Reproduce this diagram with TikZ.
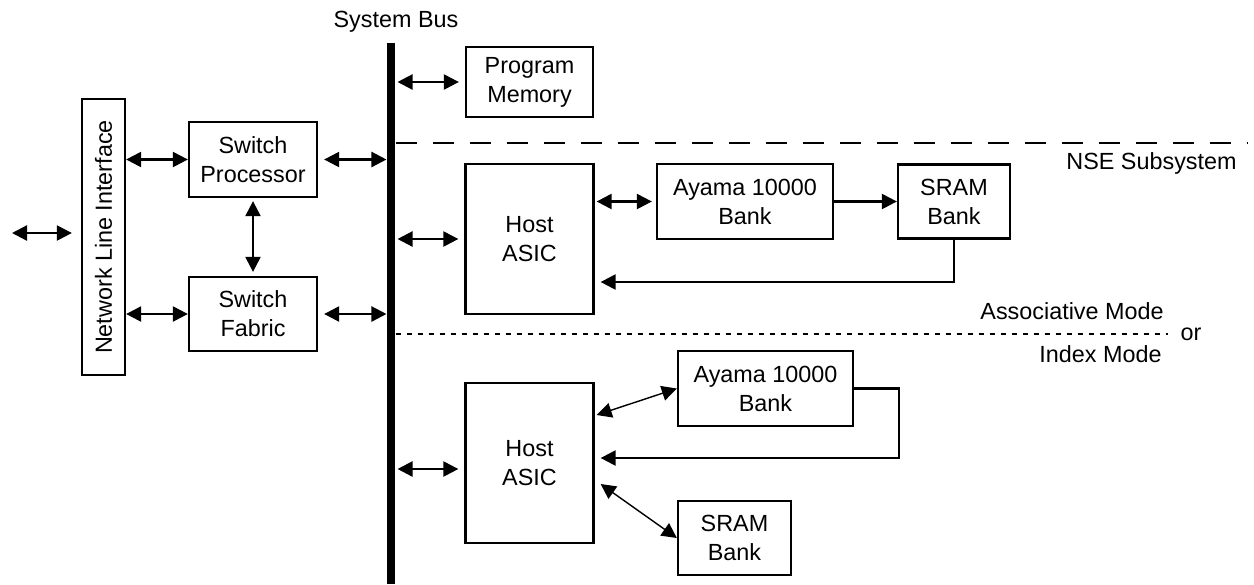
\documentclass[tikz,border=0pt]{standalone}
\usepackage{fontspec}
\setmainfont{Liberation Sans}
\usetikzlibrary{shapes,arrows.meta,positioning}

\begin{document}
\begin{tikzpicture}[semithick,node distance=3cm,
		every node/.style={font=\fontsize{13.3pt}{16.5pt}\selectfont},
		box/.style={draw,line width=1.3pt,align=center,inner sep=1pt},
		dbl/.style={line width=1.3pt,{Triangle[length=0.3cm,width=0.3cm]}-{Triangle[length=0.3cm,width=0.3cm]}},
		one/.style={line width=1.3pt,-{Triangle[length=0.3cm,width=0.3cm]}},
		thindbl/.style={line width=0.8pt,{Triangle[length=0.3cm,width=0.3cm]}-{Triangle[length=0.3cm,width=0.3cm]}}]
		\useasboundingbox (0,0) rectangle (25.08,-11.68);

		\node[box,minimum width=0.86cm,minimum height=5.52cm] (nli) at (2.07,-4.74) {\rotatebox{90}{Network Line Interface}};
		\node[box,minimum width=2.56cm,minimum height=1.5cm] (sp) at (5.06,-3.19) {Switch\\Processor};
		\node[box,minimum width=2.56cm,minimum height=1.48cm,below of=sp,node distance=3.09cm] (sf) {Switch\\Fabric};
		\node[fill,inner sep=0pt,minimum width=0.16cm,minimum height=10.82cm] (bus) at (7.82,-6.27) {};
		\node[anchor=base] (buslabel) at (7.92,-0.54) {System Bus};

		\node[box,minimum width=2.54cm,minimum height=1.4cm] (pm) at (10.59,-1.64) {Program\\Memory};
		\node[box,minimum width=2.56cm,minimum height=3cm,below of=pm,node distance=3.14cm] (ha1) {Host\\ASIC};
		\node[box,minimum width=3.52cm,minimum height=1.5cm] (ay1) at (14.9,-4.03) {Ayama 10000\\Bank};
		\node[box,minimum width=2.24cm,minimum height=1.48cm,right of=ay1,node distance=4.18cm] (sr1) {SRAM\\Bank};

		\node[box,minimum width=2.56cm,minimum height=3.2cm,below of=ha1,node distance=4.48cm] (ha2) {Host\\ASIC};
		\node[box,minimum width=3.5cm,minimum height=1.5cm] (ay2) at (15.31,-7.77) {Ayama 10000\\Bank};
		\node[box,minimum width=2.26cm,minimum height=1.48cm] (sr2) at (14.69,-10.76) {SRAM\\Bank};

		\coordinate (ext) at (0.24,-4.66);
		\coordinate (nseend) at (24.94,-2.86);
		\coordinate (modeend) at (23.36,-6.68);
		\node[anchor=base east] (nse) at (24.86,-3.38) {NSE Subsystem};
		\node[anchor=base east] (assoc) at (23.4,-6.38) {Associative Mode};
		\node[anchor=base east] (idx) at (23.36,-7.24) {Index Mode};
		\node[anchor=base west,inner sep=0pt] (or) at (23.6,-6.8) {or};

		\draw[line width=1.3pt,dash pattern=on 0.42cm off 0.32cm] (bus.east |- nseend) -- (nseend);
		\draw[line width=1.1pt,dash pattern=on 0.1cm off 0.12cm] (bus.east |- modeend) -- (modeend);

		\draw[dbl,shorten >=0.18cm] (ext) -- (ext -| nli.west);
		\draw[dbl] (nli.east |- sp.west) -- (sp.west);
		\draw[dbl] (nli.east |- sf.west) -- (sf.west);
		\draw[dbl,shorten <=0.06cm,shorten >=0.08cm] (sp) -- (sf);
		\draw[dbl,shorten <=0.12cm] (sp.east) -- (sp.east -| bus.west);
		\draw[dbl,shorten <=0.12cm] (sf.east) -- (sf.east -| bus.west);

		\draw[dbl,shorten <=0.04cm,shorten >=0.12cm] (bus.east |- pm.west) -- (pm.west);
		\draw[dbl,shorten <=0.04cm,shorten >=0.12cm] (bus.east |- ha1.west) -- (ha1.west);
		\draw[dbl,shorten <=0.04cm,shorten >=0.12cm] ([yshift=-0.12cm]bus.east |- ha2.west) -- ([yshift=-0.12cm]ha2.west);

		\draw[dbl,shorten <=0.04cm,shorten >=0.08cm] (ha1.east |- ay1.west) -- (ay1.west);
		\draw[one] (ay1) -- (sr1);
		\draw[one,shorten >=0.12cm] (sr1.south) |- ([yshift=-0.86cm]ha1.east);

		\draw[thindbl] ([xshift=0.04cm,yshift=0.96cm]ha2.east) -- (ay2.west);
		\draw[one,shorten >=0.12cm] (ay2.east) -- ++(0.9,0) |- ([yshift=0.1cm]ha2.east);
		\draw[thindbl] ([xshift=0.12cm,yshift=-0.42cm]ha2.east) -- (sr2.west);
	\end{tikzpicture}
\end{document}
